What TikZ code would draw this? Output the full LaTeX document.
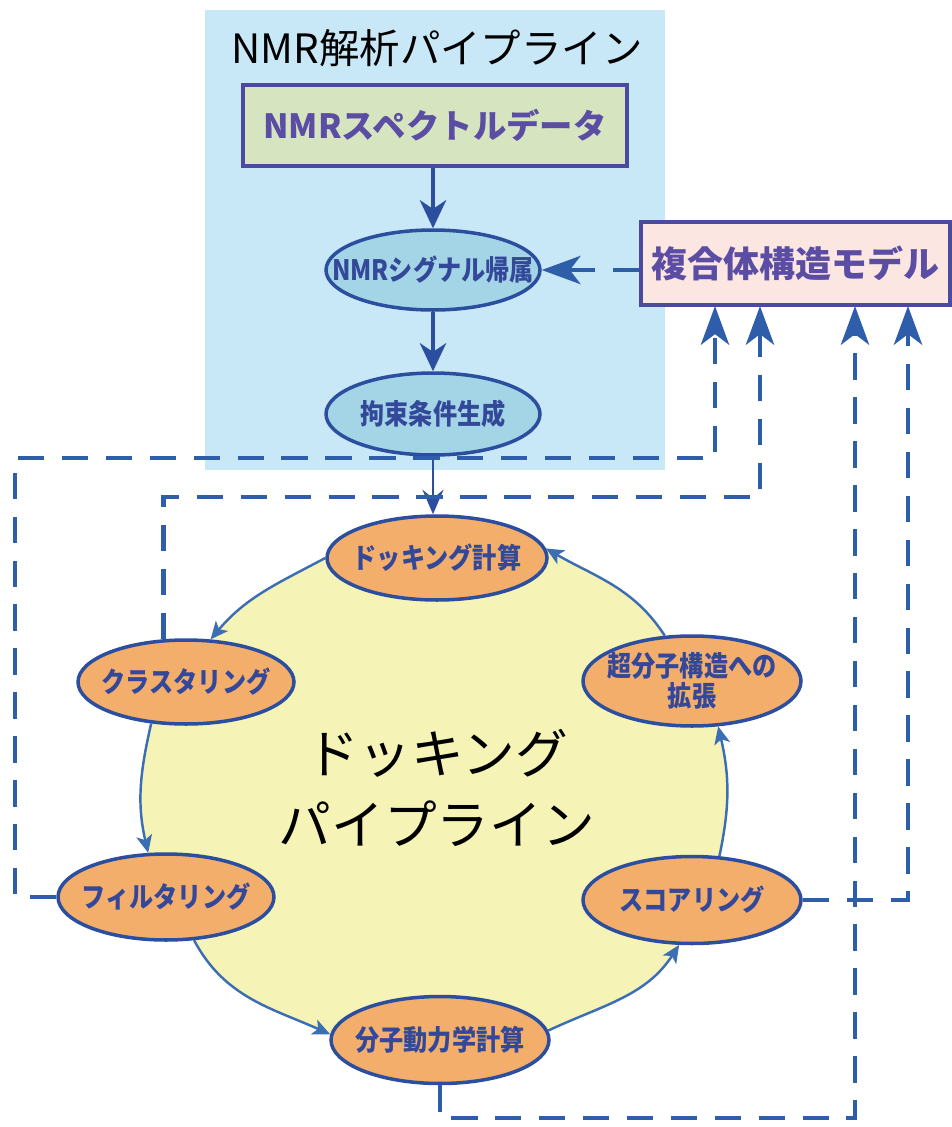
\documentclass[tikz,border=0pt]{standalone}
\usepackage{fontspec}
\setmainfont{Noto Sans CJK JP}
\newfontfamily\jpc[FakeStretch=0.86]{Noto Sans CJK JP}
\usetikzlibrary{shapes.geometric,arrows.meta,backgrounds}
\definecolor{bgblue}{HTML}{C8E8F7}
\definecolor{greenfill}{HTML}{D7E4C0}
\definecolor{boxedge}{HTML}{4B4A9E}
\definecolor{boxtext}{HTML}{5A4DA3}
\definecolor{pinkfill}{HTML}{FCE6E2}
\definecolor{ellblue}{HTML}{A3D5E7}
\definecolor{ellorange}{HTML}{F4AE6C}
\definecolor{ellborder}{HTML}{2C4E9E}
\definecolor{etext}{HTML}{34489A}
\definecolor{yellowfill}{HTML}{F6F3B6}
\definecolor{arcblue}{HTML}{3C6EB4}
\definecolor{dashblue}{HTML}{2E5DAA}
\begin{document}
\begin{tikzpicture}[x=0.02cm,y=0.02cm,
  boxnode/.style={draw=boxedge, line width=2pt, inner sep=0pt},
  ellnode/.style={ellipse, draw=ellborder, line width=2pt, inner sep=0pt},
  etxt/.style={font=\jpc\bfseries\fontsize{16}{17}\selectfont, text=etext, align=center},
  cyclearc/.style={draw=arcblue, line width=1.4pt, -{Stealth[length=10pt,width=9pt,inset=2.5pt]}},
  solidarr/.style={draw=ellborder, line width=2pt, -{Stealth[length=16pt,width=15pt,inset=5pt]}},
  solidarrthin/.style={draw=ellborder, line width=1.5pt, -{Stealth[length=14pt,width=12pt,inset=5pt]}},
  dasharr/.style={draw=dashblue, line width=2.8pt, dash pattern=on 15pt off 10pt, -{Stealth[length=22pt,width=16pt,inset=6pt]}},
]
\useasboundingbox (0,0) rectangle (952,-1127);

% NMR pipeline
\node[font=\fontsize{23}{26}\selectfont] (title) at (437,-48) {NMR解析パイプライン};
\node[boxnode, fill=greenfill, minimum width=7.68cm, minimum height=1.62cm,
      font=\bfseries\fontsize{19}{20}\selectfont, text=boxtext] (G) at (435,-125.5) {NMRスペクトルデータ};
\node[ellnode, fill=ellblue, minimum width=4.28cm, minimum height=1.6cm,
      label={[etxt]center:NMRシグナル帰属}] (A) at (433,-270) {};
\node[ellnode, fill=ellblue, minimum width=4.28cm, minimum height=1.64cm,
      label={[etxt]center:拘束条件生成}] (B) at (433,-414) {};
\node[boxnode, fill=pinkfill, minimum width=6.18cm, minimum height=1.66cm,
      font=\bfseries\fontsize{20.5}{22}\selectfont, text=boxtext] (CM) at (795.5,-263.5) {複合体構造モデル};

% docking cycle
\node[ellnode, fill=ellorange, minimum width=4.4cm, minimum height=1.68cm,
      label={[etxt]center:ドッキング計算}] (D) at (437,-558) {};
\node[ellnode, fill=ellorange, minimum width=4.32cm, minimum height=1.68cm,
      label={[etxt]center:クラスタリング}] (K) at (186,-682) {};
\node[ellnode, fill=ellorange, minimum width=4.32cm, minimum height=1.72cm,
      label={[etxt]center:フィルタリング}] (F) at (166,-897) {};
\node[ellnode, fill=ellorange, minimum width=4.36cm, minimum height=1.74cm,
      label={[etxt]center:分子動力学計算}] (M) at (440,-1040) {};
\node[ellnode, fill=ellorange, minimum width=4.36cm, minimum height=1.74cm,
      label={[etxt]center:スコアリング}] (S) at (692,-900) {};
\node[ellnode, fill=ellorange, minimum width=4.36cm, minimum height=1.8cm,
      label={[etxt]center:超分子構造への\\拡張}] (C) at (692,-681) {};
\node[font=\fontsize{30}{40}\selectfont, align=center] (big) at (437,-788) {ドッキング\\パイプライン};

\begin{scope}[on background layer]
  \fill[bgblue] (205,-10) rectangle (665,-470);
  \fill[yellowfill] (D.180) to[out=208,in=50] (K.60) -- (K.230) to[out=257,in=103] (F.112)
     -- (F.303) to[out=298,in=156] (M.177) -- (M.5) to[out=25,in=237] (S.254)
     -- (S.58) to[out=78,in=283] (C.300) -- (C.121) to[out=123,in=330] (D.5) -- cycle;
\end{scope}

% cycle arcs
\draw[cyclearc] (D.180) to[out=208,in=50] (K.60);
\draw[cyclearc] (K.230) to[out=257,in=103] (F.112);
\draw[cyclearc] (F.303) to[out=298,in=156] (M.177);
\draw[cyclearc] (M.5) to[out=25,in=237] (S.254);
\draw[cyclearc] (S.58) to[out=78,in=283] (C.300);
\draw[cyclearc] (C.121) to[out=123,in=330] (D.5);

% solid arrows
\draw[solidarr] (A.north |- G.south) -- (A.north);
\draw[solidarr] (A) -- (B);
\draw[solidarrthin] (B.south) -- (B.south |- D.north);

% dashed feedback
\coordinate (a1) at (15,-458);
\coordinate (b1) at (760,-497);
\coordinate (c1) at (855,-1118);
\coordinate (t1) at (715,-306);
\coordinate (t2) at (760,-306);
\coordinate (t3) at (855,-306);
\coordinate (t4) at (908,-306);
\draw[dasharr] (F.west) -| (a1) -| (t1);
\draw[dasharr] (K.118) |- (b1) -- (t2);
\draw[dasharr] (M.south) |- (c1) -- (t3);
\draw[dasharr] (S.east) -| (t4);
\draw[dasharr] (CM.west |- A.east) -- (A.east);
\end{tikzpicture}
\end{document}
